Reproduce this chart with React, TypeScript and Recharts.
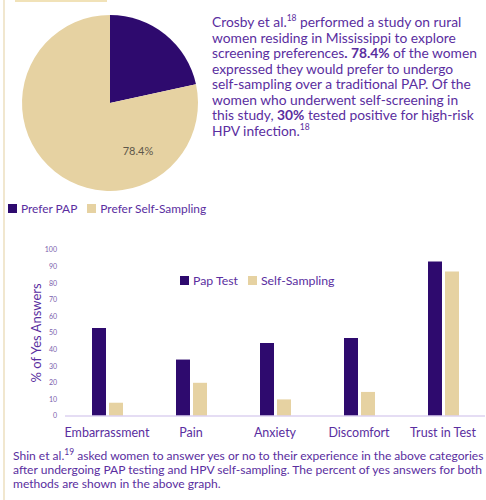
import React from "react";
import {
  Bar,
  BarChart,
  Legend,
  Pie,
  PieChart,
  XAxis,
  YAxis,
  Cell,
} from "recharts";

const pieNames = ["Prefer PAP", "Prefer Self-Sampling"];
const pieValues = [21.6, 78.4];

const categories = ["Embarrassment", "Pain", "Anxiety", "Discomfort", "Trust in Test"];
const papTest = [53, 34, 44, 47, 93];
const selfSampling = [8, 20, 10, 14.5, 87];
const yTicks = [0, 10, 20, 30, 40, 50, 60, 70, 80, 90, 100];

const PURPLE = "#2e0a6e";
const BEIGE = "#e6d2a2";
const TEXT = "#5a2ea0";
const FONT = "Lato, 'Open Sans', sans-serif";

const pieData = pieNames.map((name, i) => ({ name, value: pieValues[i] }));
const barData = categories.map((c, i) => ({
  name: c,
  pap: papTest[i],
  self: selfSampling[i],
}));

function PieLabel(props: any) {
  const { cx, cy, index, value } = props;
  if (index !== 1) return null;
  return (
    <text
      x={cx + 28}
      y={cy + 47}
      textAnchor="middle"
      dominantBaseline="central"
      fill="#5e574a"
      fontSize={11}
      fontFamily={FONT}
    >
      {value}%
    </text>
  );
}

const legendText = (size: number) => (v: string) => (
  <span style={{ color: TEXT, fontSize: size, fontFamily: FONT }}>{v}</span>
);

const sup = { fontSize: 8.5, lineHeight: 0 };

export default function App() {
  return (
    <div
      style={{
        position: "absolute",
        left: 0,
        top: 0,
        width: 486,
        height: 500,
        overflow: "hidden",
        background: "#fff",
        fontFamily: FONT,
      }}
    >
      <div style={{ position: "absolute", left: 3, top: 0, width: 2, height: 500, background: "#f1e7cf" }} />
      <div style={{ position: "absolute", left: 15, top: 0, width: 92, height: 2, background: "#f1e2b8" }} />

      <div style={{ position: "absolute", left: 0, top: 0 }}>
        <PieChart width={222} height={225} margin={{ top: 0, right: 0, bottom: 0, left: 0 }}>
          <Pie
            data={pieData}
            dataKey="value"
            nameKey="name"
            cx={110}
            cy={103}
            outerRadius={88}
            startAngle={90}
            endAngle={-270}
            stroke="none"
            label={PieLabel}
            labelLine={false}
            isAnimationActive={false}
          >
            <Cell fill={PURPLE} />
            <Cell fill={BEIGE} />
          </Pie>
          <Legend
            iconType="square"
            iconSize={9}
            formatter={legendText(11.9)}
            verticalAlign="middle"
            wrapperStyle={{ top: 197, left: 1, width: 222 }}
          />
        </PieChart>
      </div>

      <div
        style={{
          position: "absolute",
          left: 212,
          top: 14,
          fontSize: 13.8,
          lineHeight: "15.5px",
          color: TEXT,
          whiteSpace: "nowrap",
        }}
      >
        Crosby et al.<sup style={sup}>18</sup> performed a study on rural
        <br />
        women residing in Mississippi to explore
        <br />
        screening preferences<b>. 78.4%</b> of the women
        <br />
        expressed they would prefer to undergo
        <br />
        self-sampling over a traditional PAP. Of the
        <br />
        women who underwent self-screening in
        <br />
        this study, <b>30%</b> tested positive for high-risk
        <br />
        HPV infection.<sup style={sup}>18</sup>
      </div>

      <div style={{ position: "absolute", left: 0, top: 240 }}>
        <BarChart
          width={486}
          height={206}
          data={barData}
          margin={{ top: 10, right: 1, bottom: 0, left: 0 }}
          barGap={3}
          barSize={14}
        >
          <XAxis
            dataKey="name"
            tickLine={false}
            axisLine={{ stroke: "#ddd2f0", strokeWidth: 1.5 }}
            tick={{ fontSize: 12.5, fill: TEXT, fontFamily: FONT }}
            tickMargin={6}
            height={30}
            interval={0}
          />
          <YAxis
            domain={[0, 100]}
            ticks={yTicks}
            width={65}
            tickLine={false}
            axisLine={false}
            tick={{ fontSize: 7, fill: "#7a62ad", fontFamily: FONT }}
            label={{
              value: "% of Yes Answers",
              angle: -90,
              position: "insideLeft",
              offset: 36,
              style: { textAnchor: "middle", fontSize: 13, fill: TEXT, fontFamily: FONT },
            }}
          />
          <Legend
            iconType="square"
            iconSize={9}
            formatter={legendText(12.3)}
            verticalAlign="middle"
            wrapperStyle={{ top: 29, left: 180, width: "auto" }}
          />
          <Bar dataKey="pap" name="Pap Test" fill={PURPLE} isAnimationActive={false} />
          <Bar dataKey="self" name="Self-Sampling" fill={BEIGE} isAnimationActive={false} />
        </BarChart>
      </div>

      <div
        style={{
          position: "absolute",
          left: 13,
          top: 449,
          fontSize: 12.05,
          lineHeight: "14px",
          color: TEXT,
          whiteSpace: "nowrap",
        }}
      >
        Shin et al.<sup style={sup}>19</sup> asked women to answer yes or no to their experience in the above categories
        <br />
        after undergoing PAP testing and HPV self-sampling. The percent of yes answers for both
        <br />
        methods are shown in the above graph.
      </div>
    </div>
  );
}
